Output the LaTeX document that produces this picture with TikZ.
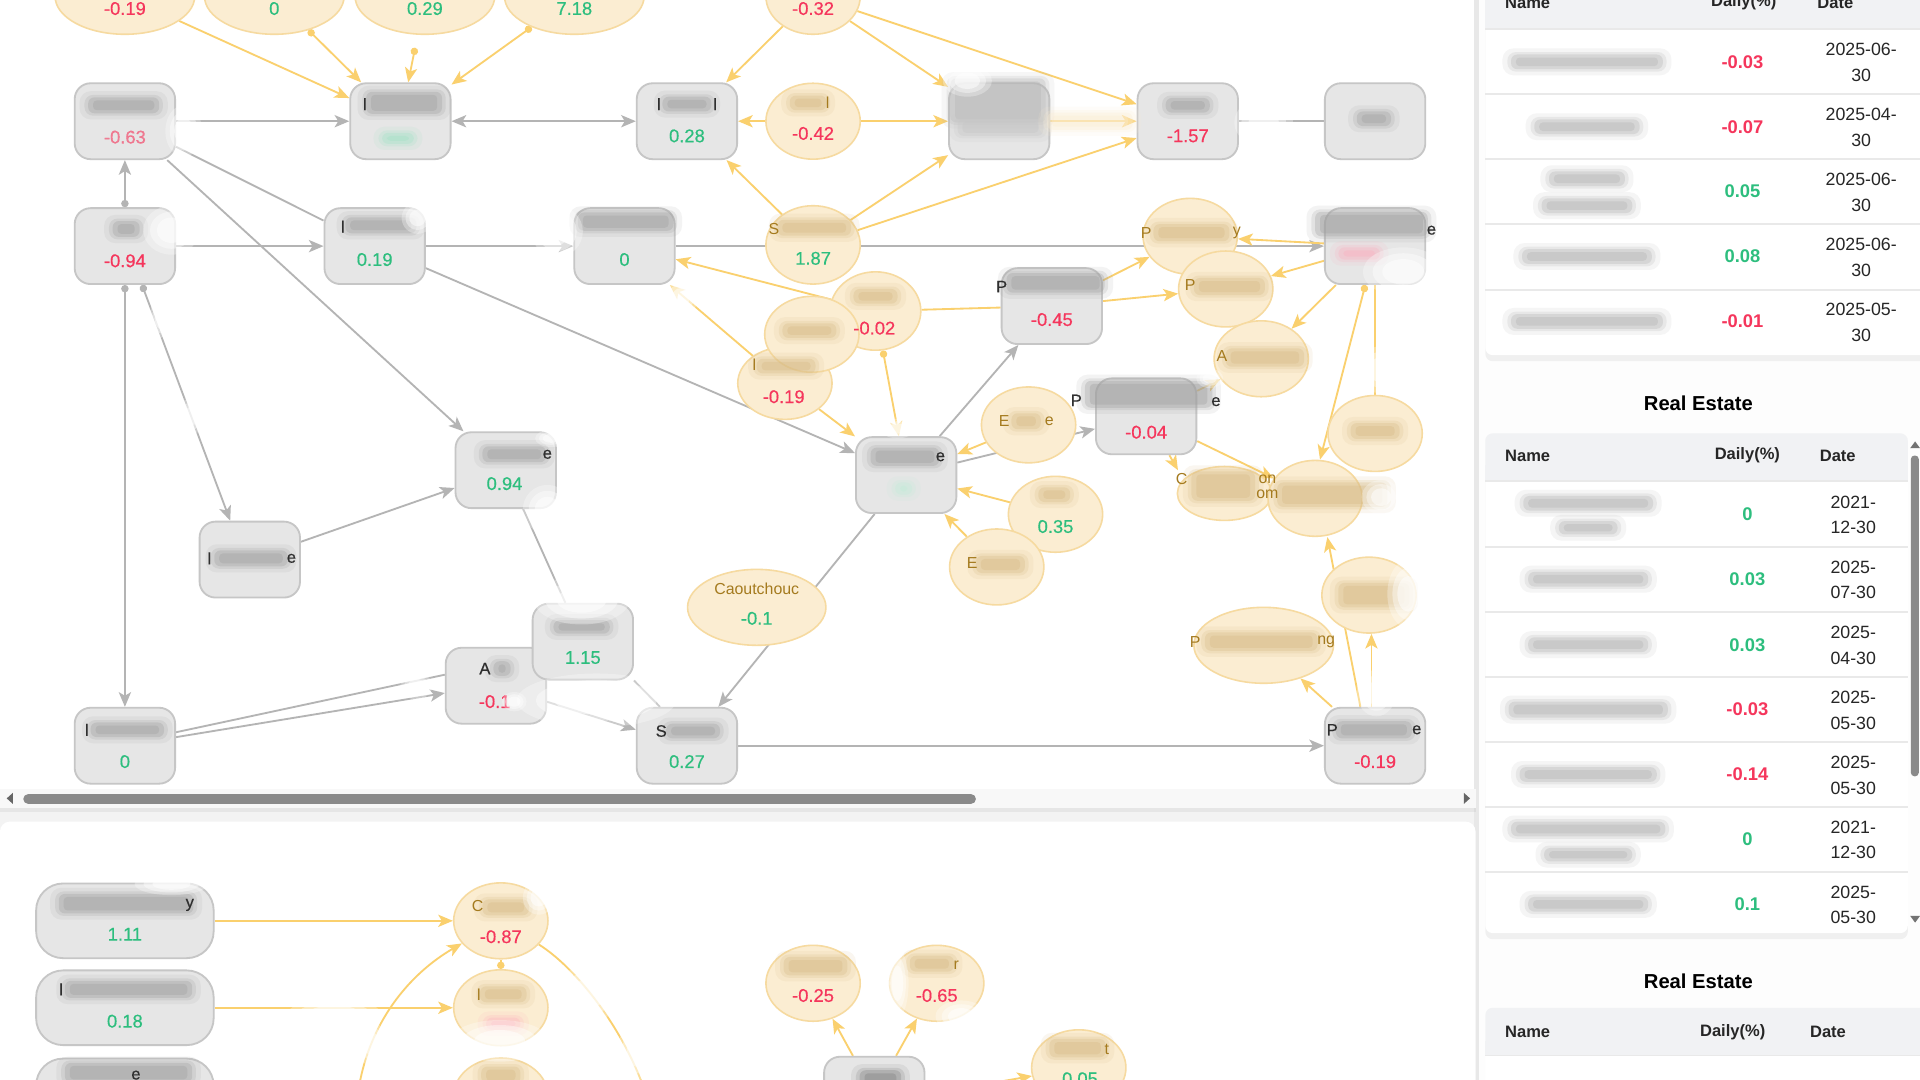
\documentclass[tikz,border=0pt]{standalone}
\usepackage{fontspec}
\setmainfont{Liberation Sans}
\newfontfamily\medfont[FakeBold=0.45]{Liberation Sans}
\usetikzlibrary{shapes.geometric,arrows.meta}
\definecolor{pagebg}{HTML}{F3F3F3}
\definecolor{rightbg}{HTML}{FDFDFD}
\definecolor{bandc}{HTML}{E8E8E8}
\definecolor{boxfill}{HTML}{E6E6E6}
\definecolor{boxline}{HTML}{C6C6C6}
\definecolor{ellfill}{HTML}{FBEDD2}
\definecolor{ellline}{HTML}{F6DAA0}
\definecolor{gedgec}{HTML}{B4B4B4}
\definecolor{yedgec}{HTML}{FAD06E}
\definecolor{upred}{HTML}{F5365C}
\definecolor{dngreen}{HTML}{2DBE7E}
\definecolor{darktext}{HTML}{2F2F2F}
\definecolor{goldtext}{HTML}{A47A1E}
\definecolor{smgray}{HTML}{9E9E9E}
\definecolor{smtan}{HTML}{D6BA86}
\definecolor{hdrbg}{HTML}{F1F2F4}
\definecolor{rowline}{HTML}{E9E9E9}
\definecolor{thumbc}{HTML}{8A8A8A}
\definecolor{trackc}{HTML}{F8F8F8}
\newcommand\smudge[5]{%
  \fill[#5,opacity=.12,rounded corners=9pt] ({#1-#3/2-7},{#2-#4/2-5}) rectangle ({#1+#3/2+7},{#2+#4/2+5});
  \fill[#5,opacity=.2,rounded corners=7pt] ({#1-#3/2-3},{#2-#4/2-2}) rectangle ({#1+#3/2+3},{#2+#4/2+2});
  \fill[#5,opacity=.3,rounded corners=5pt] ({#1-#3/2},{#2-#4/2}) rectangle ({#1+#3/2},{#2+#4/2});
  \fill[#5,opacity=.35,rounded corners=3pt] ({#1-#3/2+4},{#2-#4/2+2.5}) rectangle ({#1+#3/2-4},{#2+#4/2-2.5});}
\newcommand\wblur[4]{%
  \fill[white,opacity=.3] (#1,#2) ellipse [x radius={#3/2}, y radius={#4/2}];
  \fill[white,opacity=.4] (#1,#2) ellipse [x radius={#3*0.38}, y radius={#4*0.38}];
  \fill[white,opacity=.5] (#1,#2) ellipse [x radius={#3*0.26}, y radius={#4*0.26}];}
\pgfdeclarelayer{bgl}
\pgfdeclarelayer{edgel}
\pgfsetlayers{bgl,edgel,main}
\tikzset{
  box/.style={rectangle, rounded corners=13pt, fill=boxfill, draw=boxline, line width=1.5pt, minimum width=82pt, minimum height=62pt, inner sep=0pt},
  ell/.style={ellipse, fill=ellfill, draw=ellline, line width=1.3pt, minimum width=77pt, minimum height=62pt, inner sep=0pt},
  vr/.style={text=upred, font=\medfont\fontsize{15}{17}\selectfont, inner sep=0pt},
  vg/.style={text=dngreen, font=\medfont\fontsize{15}{17}\selectfont, inner sep=0pt},
  lb/.style={text=darktext, font=\medfont\fontsize{13.5}{16}\selectfont, inner sep=0pt},
  gt/.style={text=goldtext, font=\fontsize{13}{15}\selectfont, inner sep=0pt},
  th/.style={text=black!85, font=\bfseries\fontsize{13.5}{16}\selectfont, inner sep=0pt},
  tnr/.style={text=upred, font=\bfseries\fontsize{15}{17}\selectfont, inner sep=0pt},
  tng/.style={text=dngreen, font=\bfseries\fontsize{15}{17}\selectfont, inner sep=0pt},
  td/.style={text=black!85, font=\fontsize{14.5}{17}\selectfont, inner sep=0pt},
  ttl/.style={text=black, font=\bfseries\fontsize{16.5}{19}\selectfont, inner sep=0pt},
  gline/.style={draw=gedgec, line width=1.5pt},
  gedge/.style={gline, -{Stealth[length=12pt,width=10pt,inset=3pt]}},
  gdot/.style={gline, {Circle[length=6pt]}-{Stealth[length=12pt,width=10pt,inset=3pt]}},
  yline/.style={draw=yedgec, line width=1.5pt},
  yedge/.style={yline, -{Stealth[length=12pt,width=10pt,inset=3pt]}},
  ydot/.style={yline, {Circle[length=6pt]}-{Stealth[length=12pt,width=10pt,inset=3pt]}}
}
\begin{document}
\begin{tikzpicture}[x=1pt,y=-1pt]
\useasboundingbox (0,0) rectangle (1568,882);
\begin{pgfonlayer}{bgl}
  \fill[pagebg] (0,0) rectangle (1568,882);
  \fill[white] (0,0) rectangle (1205,660);
  \fill[rightbg] (1208,0) rectangle (1568,882);
  \fill[bandc] (1204,0) rectangle (1208,882);
  \fill[white, rounded corners=8pt] (0,671) rectangle (1205,900);
  \fill[black,opacity=.05] (0,660) rectangle (1205,663);
  \fill[trackc] (0,644) rectangle (1205,660);
  \fill[thumbc, rounded corners=4pt] (19,648.5) rectangle (797,656.5);
  \fill[black!60] (5.5,652) -- (10.5,647.5) -- (10.5,656.5) -- cycle;
  \fill[black!60] (1200.5,652) -- (1195.5,647.5) -- (1195.5,656.5) -- cycle;
\end{pgfonlayer}

% ---------- graph nodes (top panel)
\node[ell,minimum width=114pt] (E1) at (102,-3) {};
\node[ell,minimum width=114pt] (E2) at (224,-3) {};
\node[ell,minimum width=114pt] (E3) at (347,-3) {};
\node[ell,minimum width=114pt] (E4) at (469,-3) {};
\node[ell] (E5) at (664,-3) {};
\node[box] (B1) at (102,99) {};
\node[box] (B2) at (327,99) {};
\node[box] (B3) at (561,99) {};
\node[box] (B4) at (816,99) {};
\node[box] (B5) at (970,99) {};
\node[box] (B6) at (1123,99) {};
\node[ell] (E6) at (664,99) {};
\node[box] (B7) at (102,201) {};
\node[box] (B8) at (306,201) {};
\node[box] (B9) at (510,201) {};
\node[box] (B10) at (1123,201) {};
\node[ell,minimum height=64pt] (E7) at (664,200) {};
\node[ell,minimum width=74pt,minimum height=64pt] (E8) at (715,254) {};
\node[ell,minimum height=59pt] (E10) at (641,313) {};
\node[ell] (E9) at (663,273) {};
\node[box] (B11) at (859,250) {};
\node[ell] (E15) at (972,193) {};
\node[ell] (E16) at (1001,236) {};
\node[ell] (E17) at (1030,293) {};
\node[box] (B12) at (936,340) {};
\node[ell] (E11) at (840,347) {};
\node[ell] (E18) at (1123,354) {};
\node[ell,minimum height=44pt] (E19) at (1000,403) {};
\node[ell] (E20) at (1074,407) {};
\node[box] (B13) at (413,384) {};
\node[box] (B14) at (740,388) {};
\node[ell] (E12) at (862,420) {};
\node[ell] (E13) at (814,463) {};
\node[box] (B15) at (204,457) {};
\node[ell,minimum width=113pt] (E14) at (618,496) {};
\node[ell] (E21) at (1118,486) {};
\node[ell,minimum width=114pt] (E22) at (1032,527) {};
\node[box] (B17) at (405,560) {};
\node[box] (B16) at (476,524) {};
\node[box] (B18) at (102,609) {};
\node[box] (B19) at (561,609) {};
\node[box] (B20) at (1123,609) {};
% ---------- bottom panel nodes
\node[box,minimum width=145pt,minimum height=61pt,rounded corners=22pt] (BB1) at (102,752) {};
\node[box,minimum width=145pt,minimum height=61pt,rounded corners=22pt] (BB2) at (102,823) {};
\node[box,minimum width=145pt,minimum height=61pt,rounded corners=22pt] (BB3) at (102,895) {};
\node[ell] (EB1) at (409,752) {};
\node[ell] (EB2) at (409,823) {};
\node[ell] (EB3) at (409,895) {};
\node[ell] (EB4) at (664,803) {};
\node[ell] (EB5) at (765,803) {};
\node[ell] (EB6) at (881,872) {};
\node[box] (BB4) at (714,894) {};

% ---------- connectors
\begin{pgfonlayer}{edgel}
  \draw[gedge] (B1) -- (B2);
  \draw[gline,{Stealth[length=12pt,width=10pt,inset=3pt]}-{Stealth[length=12pt,width=10pt,inset=3pt]}] (B2) -- (B3);
  \draw[gline] (B5) -- (B6);
  \draw[gdot] (B7) -- (B1);
  \draw[gedge] (B7) -- (B8);
  \draw[gedge] (B8) -- (B9);
  \draw[gedge] (B9) -- (B10);
  \draw[gline] (B1) -- (B8);
  \draw[gedge] (B1) -- (B13);
  \draw[gedge] (B8) -- (B14);
  \draw[gdot] ([xshift=14pt]B7.south) -- ([xshift=-16pt]B15.north);
  \draw[gdot] (B7.south) -- (B18.north);
  \draw[gedge] (B15) -- (B13);
  \draw[gline] (B13) -- (B16);
  \draw[gline] ([yshift=11pt]B18.east) -- ([yshift=9pt]B17.west);
  \draw[gedge] ([yshift=7pt]B18.east) -- ([yshift=-6pt]B17.west);
  \draw[gedge] (B17) -- (B19);
  \draw[gline] (B16.south east) -- ([xshift=-22pt]B19.north);
  \draw[gedge] (B14) -- (B19);
  \draw[gedge] (B14) -- (B11);
  \draw[gedge] (B14) -- (B12);
  \draw[gedge] (B19) -- (B20);
  % yellow
  \coordinate (y3s) at (339,39);
  \coordinate (e19in) at (962,384);
  \draw[yedge] (E1) -- (B2);
  \draw[ydot] (E2) -- (B2);
  \draw[ydot] (y3s) -- (B2);
  \draw[ydot] (E4) -- (B2);
  \draw[yedge] (E5) -- (B3);
  \draw[yedge] (E5) -- (B4);
  \draw[yedge] (E5) -- (B5);
  \draw[yedge] (E6) -- (B3);
  \draw[yedge] (E6) -- (B4);
  \draw[yedge] (E7) -- (B3);
  \draw[yedge] (E7) -- (B4);
  \draw[yedge] (E7) -- (B5);
  \draw[yedge] (B4) -- (B5);
  \draw[yedge] (E8) -- (B9);
  \draw[yedge] (E10) -- (B9);
  \draw[yline] (B11) -- (E8);
  \draw[ydot] (E8) -- (B14);
  \draw[yedge] (E10) -- (B14);
  \draw[yedge] (E11) -- (B14);
  \draw[yedge] (E12) -- (B14);
  \draw[yedge] (E13) -- (B14);
  \draw[yedge] (B11) -- (E15);
  \draw[yedge] (B11) -- (E16);
  \draw[yedge] (B10) -- (E15);
  \draw[yedge] (B10) -- (E16);
  \draw[yedge] (B10) -- (E17);
  \draw[ydot] ([xshift=-8pt]B10.south) -- ([xshift=4pt]E20.north);
  \draw[yline] (B10.south) -- (E18.north);
  \draw[yedge] (B12) -- (E17);
  \draw[yedge] ([xshift=19pt]B12.south) -- (e19in);
  \draw[yedge] (B12) -- (E20);
  \draw[yedge] ([xshift=-12pt]B20.north) -- ([xshift=10pt]E20.south);
  \draw[yedge] ([xshift=-3pt]B20.north) -- ([xshift=2pt]E21.south);
  \draw[yedge] (B20) -- (E22);
  % bottom
  \coordinate (cb1) at (292,895);
  \coordinate (cb2) at (528,895);
  \draw[yedge] (BB1) -- (EB1);
  \draw[yedge] (BB2) -- (EB2);
  \draw[yedge] (cb1) .. controls (300,835) and (335,795) .. (EB1);
  \draw[yline] (EB1) .. controls (470,790) and (510,840) .. (cb2);
  \draw[yline,{Circle[length=6pt]}-] (EB2) -- (EB1);
  \draw[yedge] (BB4) -- (EB4);
  \draw[yedge] (BB4) -- (EB5);
  \draw[yedge] (BB4.east) -- (EB6);
\end{pgfonlayer}

% ---------- blurred labels
\smudge{101}{86}{58}{13}{smgray}
\smudge{330}{84}{62}{18}{smgray}
\smudge{325}{113}{26}{9}{dngreen!45}
\smudge{561}{85}{40}{12}{smgray}
\smudge{815}{82}{78}{36}{smgray!75}
\smudge{817}{104}{70}{14}{smgray!60}
\smudge{970}{86}{36}{12}{smgray}
\smudge{1122}{97}{28}{12}{smgray}
\smudge{103}{187}{22}{13}{smgray}
\smudge{311}{184}{58}{13}{smgray}
\smudge{511}{181}{78}{15}{smgray}
\smudge{1120}{183}{92}{20}{smgray}
\smudge{1110}{207}{34}{10}{upred!40}
\smudge{862}{231}{80}{16}{smgray}
\smudge{938}{322}{104}{22}{smgray}
\smudge{420}{371}{52}{13}{smgray}
\smudge{739}{373}{56}{15}{smgray}
\smudge{738}{399}{14}{10}{dngreen!30}
\smudge{205}{456}{60}{13}{smgray}
\smudge{475}{512}{46}{11}{smgray}
\smudge{410}{546}{14}{12}{smgray}
\smudge{104}{596}{60}{12}{smgray}
\smudge{566}{597}{44}{12}{smgray}
\smudge{1122}{596}{62}{14}{smgray}
\smudge{660}{84}{30}{12}{smtan}
\smudge{665}{186}{60}{13}{smtan}
\smudge{715}{242}{36}{12}{smtan}
\smudge{661}{270}{44}{12}{smtan}
\smudge{642}{299}{48}{12}{smtan}
\smudge{838}{344}{24}{13}{smtan}
\smudge{861}{404}{26}{12}{smtan}
\smudge{817}{461}{40}{14}{smtan}
\smudge{973}{190}{62}{14}{smtan}
\smudge{1004}{234}{58}{14}{smtan}
\smudge{1033}{292}{64}{15}{smtan}
\smudge{1123}{352}{40}{13}{smtan}
\smudge{999}{397}{52}{24}{smtan}
\smudge{1088}{404}{90}{20}{smtan}
\smudge{1122}{486}{58}{20}{smtan}
\smudge{1030}{524}{92}{15}{smtan}
\smudge{890}{99}{70}{14}{ellfill}
\smudge{103}{738}{110}{16}{smgray}
\smudge{105}{808}{104}{14}{smgray}
\smudge{105}{876}{104}{16}{smgray}
\smudge{413}{741}{38}{13}{smtan}
\smudge{411}{812}{38}{13}{smtan}
\smudge{411}{836}{28}{10}{upred!40}
\smudge{409}{878}{32}{14}{smtan}
\smudge{666}{789}{52}{15}{smtan}
\smudge{761}{787}{36}{13}{smtan}
\smudge{880}{856}{46}{15}{smtan}
\smudge{719}{881}{34}{14}{smgray!80!black}

% ---------- readable texts of the graph
\node[vr] (t1) at (102,7) {-0.19};
\node[vg] (t2) at (224,7) {0};
\node[vg] (t3) at (347,7) {0.29};
\node[vg] (t4) at (469,7) {7.18};
\node[vr] (t5) at (664,7) {-0.32};
\node[vr,opacity=.6] (t6) at (102,112) {-0.63};
\node[lb] (t7) at (298,85) {l};
\node[lb] (t8) at (538,85) {l};
\node[lb] (t9) at (584,85) {l};
\node[vg] (t10) at (561,111) {0.28};
\node[vr] (t11) at (970,111) {-1.57};
\node[gt] (t12) at (676,84) {l};
\node[vr] (t13) at (664,109) {-0.42};
\node[vr] (t14) at (102,213) {-0.94};
\node[lb] (t15) at (280,185) {l};
\node[vg] (t16) at (306,212) {0.19};
\node[vg] (t17) at (510,212) {0};
\node[gt] (t18) at (632,187) {S};
\node[vg] (t19) at (664,211) {1.87};
\node[lb] (t20) at (1169,188) {e};
\node[vr] (t21) at (714,268) {-0.02};
\node[gt] (t22) at (616,298) {l};
\node[vr] (t23) at (640,324) {-0.19};
\node[lb] (t24) at (818,234) {P};
\node[vr] (t25) at (859,261) {-0.45};
\node[gt] (t26) at (936,190) {P};
\node[gt] (t27) at (1010,190) {y};
\node[gt] (t28) at (972,233) {P};
\node[gt] (t29) at (998,291) {A};
\node[lb] (t30) at (879,327) {P};
\node[lb] (t31) at (993,328) {e};
\node[vr] (t32) at (936,353) {-0.04};
\node[gt] (t33) at (820,344) {E};
\node[gt] (t34) at (857,344) {e};
\node[gt] (t35) at (965,391.5) {C};
\node[gt] (t36) at (1035,391.5) {on};
\node[gt] (t37) at (1035,403.6) {om};
\node[lb] (t38) at (447,371) {e};
\node[vg] (t39) at (412,395) {0.94};
\node[lb] (t40) at (768,373) {e};
\node[vg] (t41) at (862,430) {0.35};
\node[gt] (t42) at (794,460) {E};
\node[lb] (t43) at (171,456) {l};
\node[lb] (t44) at (238,456) {e};
\node[gt] (t45) at (618,481) {Caoutchouc};
\node[vg] (t46) at (618,505) {-0.1};
\node[vg] (t47) at (476,537) {1.15};
\node[lb] (t48) at (396,546) {A};
\node[vr] (t49) at (404,573) {-0.1};
\node[gt] (t50) at (976,524) {P};
\node[gt] (t51) at (1083,524) {ng};
\node[lb] (t52) at (71,596) {l};
\node[vg] (t53) at (102,622) {0};
\node[lb] (t54) at (540,597) {S};
\node[vg] (t55) at (561,622) {0.27};
\node[lb] (t56) at (1088,596) {P};
\node[lb] (t57) at (1157,596) {e};
\node[vr] (t58) at (1123,622) {-0.19};
% bottom texts
\node[lb] (t59) at (155,739) {y};
\node[vg] (t60) at (102,763) {1.11};
\node[lb] (t61) at (50,808) {l};
\node[vg] (t62) at (102,834) {0.18};
\node[lb] (t63) at (111,878) {e};
\node[gt] (t64) at (390,740) {C};
\node[vr] (t65) at (409,765) {-0.87};
\node[gt] (t66) at (391,812) {l};
\node[vr] (t67) at (664,813) {-0.25};
\node[gt] (t68) at (781,788) {r};
\node[vr] (t69) at (765,813) {-0.65};
\node[gt] (t70) at (904,857) {t};
\node[vg] (t71) at (882,881) {0.05};

% ---------- white blur patches
\wblur{150}{107}{30}{42}
\wblur{140}{188}{46}{40}
\wblur{341}{178}{26}{26}
\wblur{455}{189}{42}{42}
\wblur{556}{243}{28}{30}
\wblur{1032}{100}{48}{40}
\wblur{1146}{222}{66}{40}
\wblur{1126}{302}{30}{38}
\wblur{1128}{406}{32}{28}
\wblur{1150}{485}{34}{56}
\wblur{1124}{566}{32}{38}
\wblur{131}{260}{18}{32}
\wblur{156}{340}{22}{30}
\wblur{447}{416}{40}{40}
\wblur{450}{358}{26}{14}
\wblur{475}{490}{78}{40}
\wblur{487}{572}{130}{44}
\wblur{420}{573}{20}{16}
\wblur{340}{560}{26}{22}
\wblur{733}{350}{28}{16}
\wblur{988}{309}{22}{16}
\wblur{790}{66}{40}{26}
\wblur{140}{722}{60}{18}
\wblur{273}{826}{74}{18}
\wblur{303}{852}{24}{36}
\wblur{440}{733}{26}{28}
\wblur{408}{850}{80}{34}
\wblur{481}{811}{54}{46}
\wblur{519}{858}{28}{50}
\wblur{733}{803}{18}{56}
\wblur{785}{830}{42}{26}

% ---------- right column: table 1
\fill[black,opacity=.05,rounded corners=6pt] (1213,-10) rectangle (1580,295);
\fill[white,rounded corners=6pt] (1213,-10) rectangle (1580,290);
\fill[hdrbg] (1213,-10) rectangle (1568,24);
\foreach \yy in {24,77,130,183,237} {\draw[rowline,line width=1.5pt] (1213,\yy) -- (1568,\yy);}
\node[th,anchor=west] (h1a) at (1229,2) {Name};
\node[th] (h1b) at (1424,2) {Daily(\%)};
\node[th,anchor=west] (h1c) at (1484,2) {Date};
\smudge{1296}{50.5}{124}{12}{smgray!80}
\smudge{1296}{103.5}{86}{12}{smgray!80}
\smudge{1296}{146}{62}{12}{smgray!80}
\smudge{1296}{168}{74}{12}{smgray!80}
\smudge{1296}{209.5}{106}{12}{smgray!80}
\smudge{1296}{262.5}{124}{12}{smgray!80}
\node[tnr] (r1n) at (1423,50.5) {-0.03};
\node[td] (r1a) at (1520,40.5) {2025-06-};
\node[td] (r1b) at (1520,61.5) {30};
\node[tnr] (r2n) at (1423,103.5) {-0.07};
\node[td] (r2a) at (1520,93.5) {2025-04-};
\node[td] (r2b) at (1520,114.5) {30};
\node[tng] (r3n) at (1423,156.5) {0.05};
\node[td] (r3a) at (1520,146.5) {2025-06-};
\node[td] (r3b) at (1520,167.5) {30};
\node[tng] (r4n) at (1423,209.5) {0.08};
\node[td] (r4a) at (1520,199.5) {2025-06-};
\node[td] (r4b) at (1520,220.5) {30};
\node[tnr] (r5n) at (1423,262.5) {-0.01};
\node[td] (r5a) at (1520,252.5) {2025-05-};
\node[td] (r5b) at (1520,273.5) {30};
\node[ttl] (ttl1) at (1387,329) {Real Estate};
% table 2
\fill[black,opacity=.05,rounded corners=6pt] (1213,354) rectangle (1558,767);
\fill[white,rounded corners=6pt] (1213,354) rectangle (1558,762);
\fill[hdrbg,rounded corners=6pt] (1213,354) rectangle (1558,393);
\fill[hdrbg] (1213,380) rectangle (1558,393);
\foreach \yy in {393,446.6,499.8,553,606,659,712} {\draw[rowline,line width=1.5pt] (1213,\yy) -- (1558,\yy);}
\node[th,anchor=west] (h2a) at (1229,372) {Name};
\node[th] (h2b) at (1427,372) {Daily(\%)};
\node[th,anchor=west] (h2c) at (1486,372) {Date};
\fill[thumbc,rounded corners=3pt] (1560.5,372) rectangle (1567,634);
\fill[black!55] (1560,366) -- (1568,366) -- (1564,360.5) -- cycle;
\fill[black!55] (1560,748) -- (1568,748) -- (1564,753.5) -- cycle;
\smudge{1297}{411}{106}{12}{smgray!80}
\smudge{1297}{431}{48}{11}{smgray!80}
\smudge{1297}{473}{98}{12}{smgray!80}
\smudge{1297}{526.5}{98}{12}{smgray!80}
\smudge{1297}{579.5}{130}{13}{smgray!80}
\smudge{1297}{632.5}{112}{12}{smgray!80}
\smudge{1297}{677}{126}{12}{smgray!80}
\smudge{1297}{698}{72}{11}{smgray!80}
\smudge{1297}{738.5}{98}{12}{smgray!80}
\node[tng] (s1n) at (1427,420) {0};
\node[td] (s1a) at (1513.5,410) {2021-};
\node[td] (s1b) at (1513.5,431) {12-30};
\node[tng] (s2n) at (1427,473) {0.03};
\node[td] (s2a) at (1513.5,463) {2025-};
\node[td] (s2b) at (1513.5,484) {07-30};
\node[tng] (s3n) at (1427,526.5) {0.03};
\node[td] (s3a) at (1513.5,516.5) {2025-};
\node[td] (s3b) at (1513.5,537.5) {04-30};
\node[tnr] (s4n) at (1427,579.5) {-0.03};
\node[td] (s4a) at (1513.5,569.5) {2025-};
\node[td] (s4b) at (1513.5,590.5) {05-30};
\node[tnr] (s5n) at (1427,632.5) {-0.14};
\node[td] (s5a) at (1513.5,622.5) {2025-};
\node[td] (s5b) at (1513.5,643.5) {05-30};
\node[tng] (s6n) at (1427,685.5) {0};
\node[td] (s6a) at (1513.5,675.5) {2021-};
\node[td] (s6b) at (1513.5,696.5) {12-30};
\node[tng] (s7n) at (1427,738.5) {0.1};
\node[td] (s7a) at (1513.5,728.5) {2025-};
\node[td] (s7b) at (1513.5,749.5) {05-30};
\node[ttl] (ttl2) at (1387,801) {Real Estate};
% table 3
\fill[white,rounded corners=6pt] (1213,823) rectangle (1580,900);
\fill[hdrbg,rounded corners=6pt] (1213,823) rectangle (1580,862);
\fill[hdrbg] (1213,850) rectangle (1568,862);
\draw[rowline,line width=1.5pt] (1213,862) -- (1568,862);
\node[th,anchor=west] (h3a) at (1229,843) {Name};
\node[th] (h3b) at (1415,843) {Daily(\%)};
\node[th,anchor=west] (h3c) at (1478,843) {Date};
\end{tikzpicture}
\end{document}
